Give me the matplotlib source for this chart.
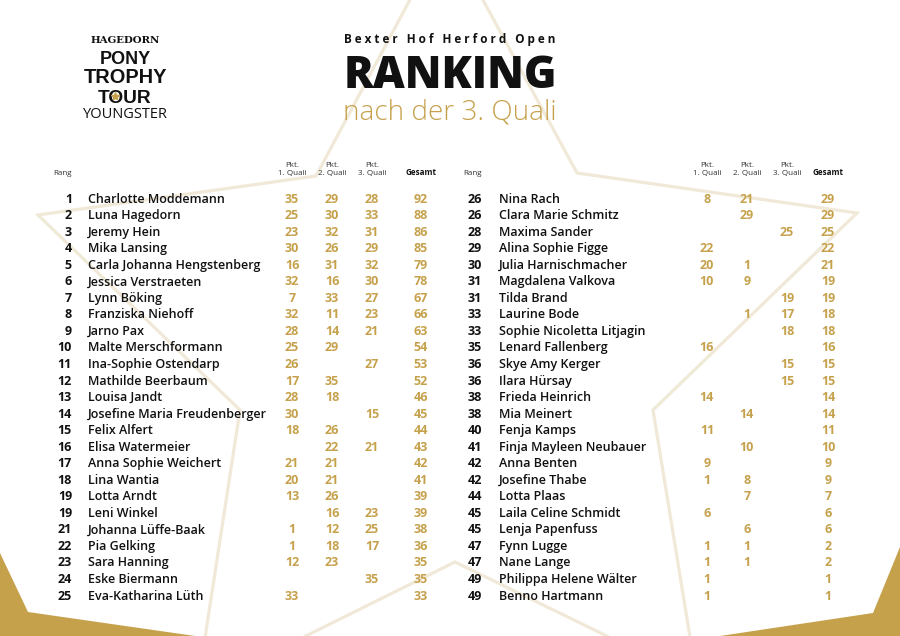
import matplotlib
matplotlib.use("Agg")
import matplotlib.pyplot as plt
from matplotlib.patches import Polygon

# ---------------- data ----------------
rang = [1, 2, 3, 4, 5, 6, 7, 8, 9, 10, 11, 12, 13, 14, 15, 16, 17, 18, 19, 19, 21, 22, 23, 24, 25,
        26, 26, 28, 29, 30, 31, 31, 33, 33, 35, 36, 36, 38, 38, 40, 41, 42, 42, 44, 45, 45, 47, 47, 49, 49]
namen = ["Charlotte Moddemann", "Luna Hagedorn", "Jeremy Hein", "Mika Lansing",
         "Carla Johanna Hengstenberg", "Jessica Verstraeten", "Lynn Böking", "Franziska Niehoff",
         "Jarno Pax", "Malte Merschformann", "Ina-Sophie Ostendarp", "Mathilde Beerbaum",
         "Louisa Jandt", "Josefine Maria Freudenberger", "Felix Alfert", "Elisa Watermeier",
         "Anna Sophie Weichert", "Lina Wantia", "Lotta Arndt", "Leni Winkel",
         "Johanna Lüffe-Baak", "Pia Gelking", "Sara Hanning", "Eske Biermann", "Eva-Katharina Lüth",
         "Nina Rach", "Clara Marie Schmitz", "Maxima Sander", "Alina Sophie Figge",
         "Julia Harnischmacher", "Magdalena Valkova", "Tilda Brand", "Laurine Bode",
         "Sophie Nicoletta Litjagin", "Lenard Fallenberg", "Skye Amy Kerger", "Ilara Hürsay",
         "Frieda Heinrich", "Mia Meinert", "Fenja Kamps", "Finja Mayleen Neubauer", "Anna Benten",
         "Josefine Thabe", "Lotta Plaas", "Laila Celine Schmidt", "Lenja Papenfuss", "Fynn Lugge",
         "Nane Lange", "Philippa Helene Wälter", "Benno Hartmann"]
quali1 = [35, 25, 23, 30, 16, 32, 7, 32, 28, 25, 26, 17, 28, 30, 18, None, 21, 20, 13, None, 1, 1, 12, None, 33,
          8, None, None, 22, 20, 10, None, None, None, 16, None, None, 14, None, 11, None, 9, 1, None, 6, None, 1, 1, 1, 1]
quali2 = [29, 30, 32, 26, 31, 16, 33, 11, 14, 29, None, 35, 18, None, 26, 22, 21, 21, 26, 16, 12, 18, 23, None, None,
          21, 29, None, None, 1, 9, None, 1, None, None, None, None, None, 14, None, 10, None, 8, 7, None, 6, 1, 1, None, None]
quali3 = [28, 33, 31, 29, 32, 30, 27, 23, 21, None, 27, None, None, 15, None, 21, None, None, None, 23, 25, 17, None, 35, None,
          None, None, 25, None, None, None, 19, 17, 18, None, 15, 15, None, None, None, None, None, None, None, None, None, None, None, None, None]
gesamt = [92, 88, 86, 85, 79, 78, 67, 66, 63, 54, 53, 52, 46, 45, 44, 43, 42, 41, 39, 39, 38, 36, 35, 35, 33,
          29, 29, 25, 22, 21, 19, 19, 18, 18, 16, 15, 15, 14, 14, 11, 10, 9, 9, 7, 6, 6, 2, 2, 1, 1]
spalten_kopf = ["Pkt.\n1. Quali", "Pkt.\n2. Quali", "Pkt.\n3. Quali"]
titel_oben = "Bexter Hof Herford Open"
titel = "RANKING"
untertitel = "nach der 3. Quali"
logo_zeilen = ["HAGEDORN", "PONY", "TROPHY", "TOUR", "YOUNGSTER"]

# ---------------- style ----------------
GOLD = "#c6a14c"
BLACK = "#111111"
LINE = "#f1e9d8"
FONT = "Open Sans"

fig = plt.figure(figsize=(9, 6.36), dpi=100)
ax = fig.add_axes([0, 0, 1, 1])
ax.set_xlim(0, 900)
ax.set_ylim(636, 0)
ax.axis("off")
renderer = fig.canvas.get_renderer()


def fit(t, width):
    bb = t.get_window_extent(renderer)
    t.set_fontsize(t.get_fontsize() * width / bb.width)
    return t


# background star outline and gold corners
star = [(446, -68), (577, 173), (857, 213), (653, 410), (697, 680), (455, 562),
        (197, 690), (240, 410), (38, 215), (316, 176)]
ax.add_patch(Polygon(star, closed=True, fill=False, edgecolor=LINE, lw=2.3, zorder=0, joinstyle="miter"))
ax.add_patch(Polygon([(0, 553), (28, 612), (195, 636), (0, 636)], closed=True, color=GOLD, lw=0, zorder=0))
ax.add_patch(Polygon([(900, 547), (873, 613), (720, 636), (900, 636)], closed=True, color=GOLD, lw=0, zorder=0))

# logo
NARROW = ["Liberation Sans Narrow", "Liberation Sans"]
logo_spec = [(43, 70, ["DejaVu Serif"], "bold"), (64, 51, NARROW, "bold"),
             (83, 83, NARROW, "bold"), (103, 54, NARROW, "bold"),
             (118, 85, ["Open Sans"], "normal")]
for txt, (yb, w, fam, wt) in zip(logo_zeilen, logo_spec):
    t = ax.text(125, yb, txt, ha="center", va="baseline", family=fam, weight=wt, color=BLACK, fontsize=10)
    fit(t, w)
ax.plot([114.5], [96], marker="*", color=GOLD, markersize=6, zorder=3)

# title block
t = ax.text(450, 42.5, "   ".join(" ".join(wd) for wd in titel_oben.split()), ha="center", va="baseline",
            family=FONT, weight="bold", color=BLACK, fontsize=7)
fit(t, 212)
t = ax.text(450, 88, titel, ha="center", va="baseline", family=FONT, weight="heavy", color=BLACK, fontsize=30)
fit(t, 214)
t = ax.text(450, 119, untertitel, ha="center", va="baseline", family=FONT, weight="light", color=GOLD, fontsize=16)
fit(t, 214)

# table
row0 = 198.0
dy = 16.54
tables = [dict(start=0, rang_x=72, name_x=88, qx=[292, 332, 372], gx=421),
          dict(start=25, rang_x=482, name_x=499, qx=[707, 747, 787], gx=828)]

probe = ax.text(0, -100, "Charlotte Moddemann", family=FONT, weight="semibold", fontsize=10)
fit(probe, 137)
fs_name = probe.get_fontsize()
probe.remove()
fs_num = fs_name
fs_head = fs_name * 0.64

for tb in tables:
    ax.text(tb["rang_x"], 175, "Rang", ha="right", va="baseline", family=FONT, fontsize=fs_head, color="#333333")
    for x, h in zip(tb["qx"], spalten_kopf):
        ax.text(x, 175, h, ha="center", va="baseline", family=FONT, fontsize=fs_head, color="#333333",
                linespacing=1.25, multialignment="center")
    ax.text(tb["gx"], 175, "Gesamt", ha="center", va="baseline", family=FONT, weight="bold",
            fontsize=fs_head, color=BLACK)
    for i in range(25):
        k = tb["start"] + i
        yb = row0 + i * dy + 4.6
        ax.text(tb["rang_x"], yb, str(rang[k]), ha="right", va="baseline", family=FONT, weight="bold",
                fontsize=fs_num, color=BLACK)
        ax.text(tb["name_x"], yb, namen[k], ha="left", va="baseline", family=FONT, weight="semibold",
                fontsize=fs_name, color=BLACK)
        for x, v in zip(tb["qx"], (quali1[k], quali2[k], quali3[k])):
            if v is not None:
                ax.text(x, yb, str(v), ha="center", va="baseline", family=FONT, weight="bold",
                        fontsize=fs_num, color=GOLD)
        ax.text(tb["gx"], yb, str(gesamt[k]), ha="center", va="baseline", family=FONT, weight="bold",
                fontsize=fs_num, color=GOLD)

fig.savefig("out.png", dpi=100, facecolor="white")
